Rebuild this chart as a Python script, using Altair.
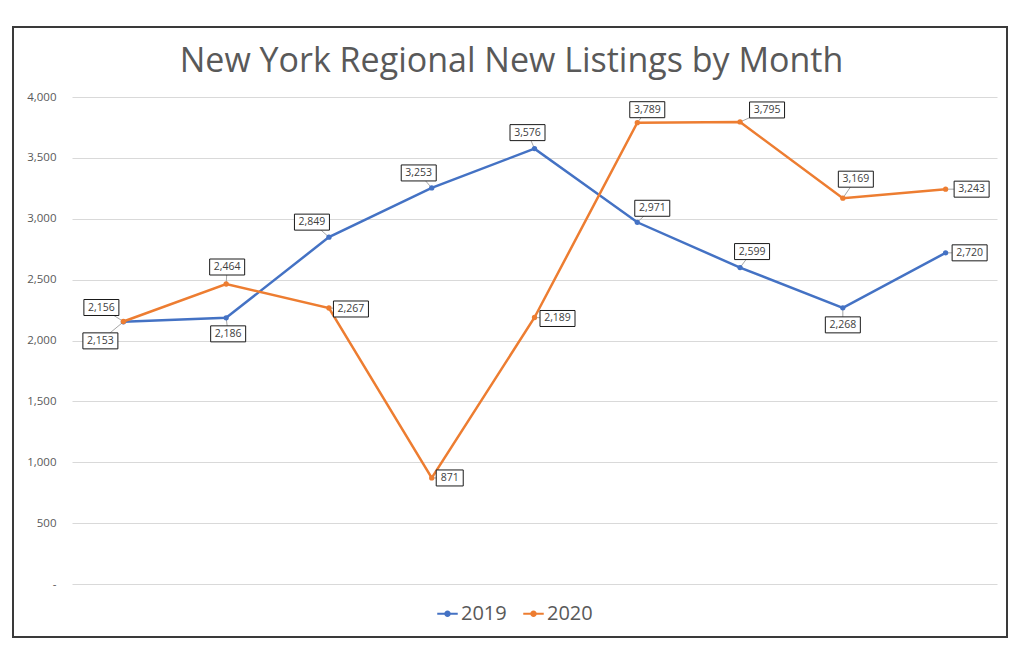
import altair as alt
import pandas as pd

# ---- data ----
months = ["Jan", "Feb", "Mar", "Apr", "May", "Jun", "Jul", "Aug", "Sep"]
series = ["2019", "2020"]
values_2019 = [2153, 2186, 2849, 3253, 3576, 2971, 2599, 2268, 2720]
values_2020 = [2156, 2464, 2267, 871, 2189, 3789, 3795, 3169, 3243]
y_ticks = [0, 500, 1000, 1500, 2000, 2500, 3000, 3500, 4000]

# label placement (pixel offsets of each data-label box from its point)
label_dx_2019 = [-23, 2, -17, -13, -7, 15, 12, 0, 24]
label_dy_2019 = [19, 16, -15, -15, -16, -14, -16, 17, 0]
label_dx_2020 = [-22, 1, 22, 18, 23, 10, 27, 13, 26]
label_dy_2020 = [-14, -17, 1, 0, 1, -13, -12, -19, 0]

colors = ["#4472C4", "#ED7D31"]

W, H = 925, 487
YMAX = 4000
PX_X = W / len(months)      # px per category
PX_Y = H / YMAX             # px per value unit

rows = []
for s, vals, dxs, dys in [("2019", values_2019, label_dx_2019, label_dy_2019),
                          ("2020", values_2020, label_dx_2020, label_dy_2020)]:
    for i, (m, v, dx, dy) in enumerate(zip(months, vals, dxs, dys)):
        rows.append({"month": m, "i": i, "series": s, "value": v, "dx": dx, "dy": dy})
df = pd.DataFrame(rows)

xs = alt.Scale(domain=[-0.5, len(months) - 0.5], nice=False, zero=False)
ys = alt.Scale(domain=[0, YMAX], nice=False)
cs = alt.Scale(domain=series, range=colors)

base = alt.Chart(df).transform_calculate(
    lbl="format(datum.value, ',')",
    w="4 * length(format(datum.value, ',')) + 15",
).transform_calculate(
    lx=f"datum.i + datum.dx / {PX_X}",
    ly=f"datum.value - datum.dy / {PX_Y}",
).transform_calculate(
    bx=f"datum.lx - datum.w / 2 / {PX_X}",
    bx2=f"datum.lx + datum.w / 2 / {PX_X}",
    by=f"datum.ly - 8 / {PX_Y}",
    by2=f"datum.ly + 8 / {PX_Y}",
)

# frame around the whole chart (decoration)
frame = alt.Chart(df).mark_rect(fill=None, stroke="#3a3a3a", strokeWidth=2, clip=False).encode(
    x=alt.value(-59), x2=alt.value(935), y=alt.value(-70), y2=alt.value(540)
).transform_filter("datum.i == 0 && datum.series == '2019'")

leaders = base.mark_rule(color="#a6a6a6", strokeWidth=1).encode(
    x=alt.X("i:Q", scale=xs, axis=None),
    y=alt.Y("value:Q", scale=ys),
    x2="lx:Q",
    y2="ly:Q",
)

lines = alt.Chart(df).mark_line(strokeWidth=2.5, point=alt.OverlayMarkDef(filled=True, size=28)).encode(
    x=alt.X("i:Q", scale=xs, axis=None),
    y=alt.Y("value:Q", scale=ys,
            axis=alt.Axis(values=y_ticks, title=None, domain=False, ticks=False,
                          labelExpr="datum.value == 0 ? '-' : format(datum.value, ',')",
                          labelFont="Open Sans", labelFontSize=11.5, labelColor="#595959",
                          labelPadding=16, gridColor="#d9d9d9", gridWidth=1)),
    color=alt.Color("series:N", scale=cs, title=None,
                    legend=alt.Legend(orient="none", direction="horizontal",
                                      legendX=364, legendY=505,
                                      symbolType="M-1,0L1,0M-0.22,0A0.22,0.22 0 1,1 0.22,0A0.22,0.22 0 1,1 -0.22,0",
                                      symbolSize=420, symbolStrokeWidth=2,
                                      labelFont="Open Sans", labelFontSize=20, labelColor="#595959",
                                      labelOffset=2, columnPadding=12)),
    detail="series:N",
)

boxes = base.mark_rect(fill="white", stroke="#1a1a1a", strokeWidth=1).encode(
    x="bx:Q", x2="bx2:Q", y="by:Q", y2="by2:Q",
)

texts = base.mark_text(font="Open Sans", fontSize=10.5, color="#404040", baseline="middle", align="center").encode(
    x=alt.X("lx:Q", scale=xs),
    y=alt.Y("ly:Q", scale=ys),
    text="lbl:N",
)

chart = alt.layer(frame, leaders, lines, boxes, texts).properties(
    width=W, height=H,
    title=alt.TitleParams("New York Regional New Listings by Month", font="Open Sans",
                          fontSize=34, fontWeight="normal", color="#595959",
                          anchor="middle", dx=-23, offset=-53),
    autosize=alt.AutoSizeParams(type="none"),
    padding={"left": 64, "top": 89, "right": 16, "bottom": 58},
).configure(background="white", view=alt.ViewConfig(stroke=None))

chart.save("out.html", embed_options={"renderer": "svg", "actions": False})
